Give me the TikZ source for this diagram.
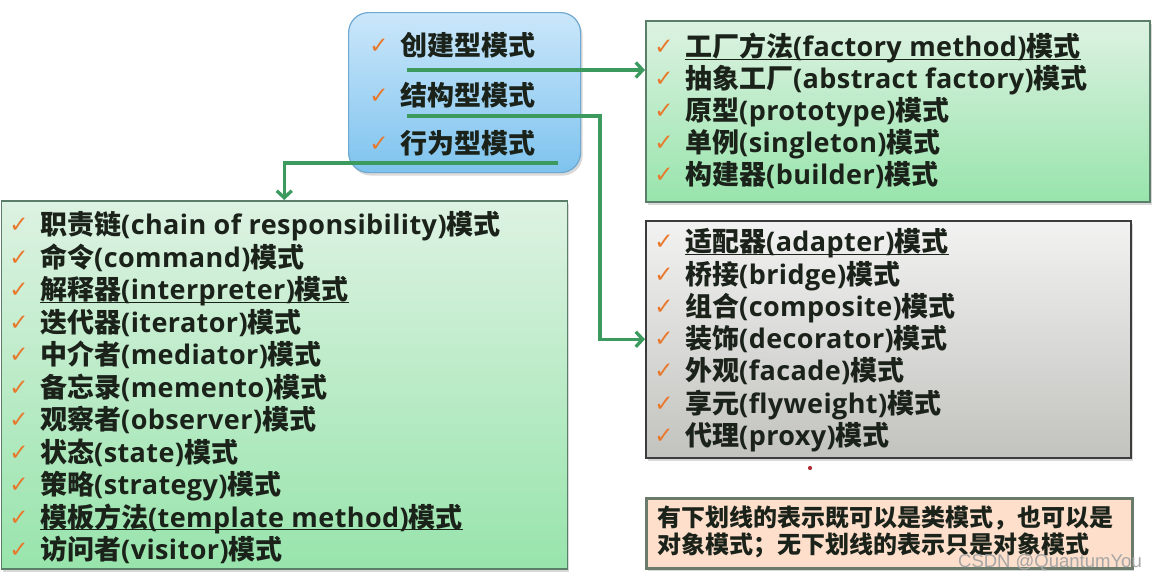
\documentclass[tikz,border=0pt]{standalone}
\usepackage{fontspec}
\setmainfont{Open Sans}[LetterSpace=1.5]
\newfontfamily\cjkf{Noto Sans CJK SC}
\newfontfamily\symf{DejaVu Sans}
\newfontfamily\wmf{Liberation Sans}
\newcommand\zh[1]{{\cjkf\bfseries #1}}
\usetikzlibrary{arrows.meta,shadows}
\definecolor{txtc}{HTML}{1A221A}
\definecolor{chkc}{HTML}{E8782C}
\definecolor{gtop}{HTML}{DDF2E2}
\definecolor{gbot}{HTML}{98E4AC}
\definecolor{gbord}{HTML}{5B7E69}
\definecolor{stop}{HTML}{F2F2F2}
\definecolor{sbot}{HTML}{C2C2BE}
\definecolor{sbord}{HTML}{3C3C3C}
\definecolor{ptop}{HTML}{FDDFCB}
\definecolor{pbord}{HTML}{6B7B6B}
\definecolor{btop}{HTML}{CBE7FA}
\definecolor{bbot}{HTML}{7EC3EE}
\definecolor{bbord}{HTML}{6FA8D0}
\definecolor{connc}{HTML}{3C9A5E}
\definecolor{dotc}{HTML}{B0303A}
\tikzset{
  shad/.style={drop shadow={shadow xshift=2pt,shadow yshift=-3pt,opacity=.3}},
  boxbase/.style={rectangle, anchor=north west, inner sep=0pt, shad},
  greenbox/.style={boxbase, draw=gbord, line width=1.5pt, top color=gtop, bottom color=gbot},
  graybox/.style={boxbase, draw=sbord, line width=1.5pt, top color=stop, bottom color=sbot},
  peachbox/.style={boxbase, draw=pbord, line width=2.5pt, fill=ptop},
  bluebox/.style={boxbase, draw=bbord, line width=1.2pt, rounded corners=20pt, top color=btop, bottom color=bbot},
  chk/.style={inner sep=0pt, font=\symf\fontsize{23}{23}\selectfont, text=chkc},
  txt/.style={anchor=base west, inner sep=0pt, text=txtc},
  conn/.style={draw=connc, line width=3.3pt, -{Straight Barb[length=7pt,width=15pt]}},
  ul/.style={draw=txtc, line width=1.3pt},
  wm/.style={anchor=east, inner sep=0pt, font=\wmf\fontsize{18.5}{18.5}\selectfont, text=black!35},
}
\newcommand\pline[5]{%
  \node[chk] (#1c) at ({#2-21},{#3+1}) {✓};
  \node[txt, font=\fontsize{#4}{#4}\selectfont\bfseries] (#1) at (#2,{#3+0.38*#4}) {#5};}
\newcommand\uline[1]{\draw[ul] ([yshift=-2.5pt]#1.base west) -- ([yshift=-2.5pt]#1.base east);}
\begin{document}
\begin{tikzpicture}[x=1pt,y=-1pt]
\useasboundingbox (0,0) rectangle (1158,582);
% boxes
\node[bluebox, minimum width=232pt, minimum height=160pt] (abox) at (348,12) {};
\node[greenbox, minimum width=504pt, minimum height=181pt] (cbox) at (645,20) {};
\node[graybox, minimum width=485pt, minimum height=237pt] (sbox) at (645,220) {};
\node[greenbox, minimum width=566pt, minimum height=368pt] (bbox) at (0.5,200) {};
\node[peachbox, minimum width=486pt, minimum height=70pt] (pbox) at (645,497) {};
% blue box
\pline{a1}{400}{45}{27}{\zh{创建型模式}}
\pline{a2}{400}{95}{27}{\zh{结构型模式}}
\pline{a3}{400}{143}{27}{\zh{行为型模式}}
% creational
\pline{c1}{685}{46.5}{27}{\zh{工厂方法}(factory method)\zh{模式}}
\pline{c2}{685}{78.5}{27}{\zh{抽象工厂}(abstract factory)\zh{模式}}
\pline{c3}{685}{110.5}{27}{\zh{原型}(prototype)\zh{模式}}
\pline{c4}{685}{142.5}{27}{\zh{单例}(singleton)\zh{模式}}
\pline{c5}{685}{174.5}{27}{\zh{构建器}(builder)\zh{模式}}
\uline{c1}
% structural
\pline{s1}{685}{241.5}{27}{\zh{适配器}(adapter)\zh{模式}}
\pline{s2}{685}{273.8}{27}{\zh{桥接}(bridge)\zh{模式}}
\pline{s3}{685}{306.1}{27}{\zh{组合}(composite)\zh{模式}}
\pline{s4}{685}{338.4}{27}{\zh{装饰}(decorator)\zh{模式}}
\pline{s5}{685}{370.7}{27}{\zh{外观}(facade)\zh{模式}}
\pline{s6}{685}{403.0}{27}{\zh{享元}(flyweight)\zh{模式}}
\pline{s7}{685}{435.3}{27}{\zh{代理}(proxy)\zh{模式}}
\uline{s1}
% behavioral
\pline{b1}{40}{224.5}{27}{\zh{职责链}(chain of responsibility)\zh{模式}}
\pline{b2}{40}{257}{27}{\zh{命令}(command)\zh{模式}}
\pline{b3}{40}{289.5}{27}{\zh{解释器}(interpreter)\zh{模式}}
\pline{b4}{40}{322}{27}{\zh{迭代器}(iterator)\zh{模式}}
\pline{b5}{40}{354.5}{27}{\zh{中介者}(mediator)\zh{模式}}
\pline{b6}{40}{387}{27}{\zh{备忘录}(memento)\zh{模式}}
\pline{b7}{40}{419.5}{27}{\zh{观察者}(observer)\zh{模式}}
\pline{b8}{40}{452}{27}{\zh{状态}(state)\zh{模式}}
\pline{b9}{40}{484.5}{27}{\zh{策略}(strategy)\zh{模式}}
\pline{b10}{40}{517}{27}{\zh{模板方法}(template method)\zh{模式}}
\pline{b11}{40}{549.5}{27}{\zh{访问者}(visitor)\zh{模式}}
\uline{b3}
\uline{b10}
% note
\node[txt, font=\fontsize{24}{24}\selectfont] (p1) at (657,{517.5+9.1}) {\zh{有下划线的表示既可以是类模式，也可以是}};
\node[txt, font=\fontsize{24}{24}\selectfont] (p2) at (657,{544.5+9.1}) {\zh{对象模式；无下划线的表示只是对象模式}};
\node[wm] (wm) at (1142,563) {CSDN @QuantumYou};
\node[circle, fill=dotc, inner sep=1.5pt] (dot) at (810,468) {};
% connectors
\coordinate (s1p) at (407,70);
\coordinate (s2p) at (407,116);
\coordinate (k2) at (600,116);
\coordinate (s3p) at (558,163);
\draw[conn] (s1p) -- (s1p -| cbox.west);
\draw[conn] (s2p) -- (k2) |- (sbox.west);
\draw[conn] (s3p) -| (bbox.north);
\end{tikzpicture}
\end{document}
